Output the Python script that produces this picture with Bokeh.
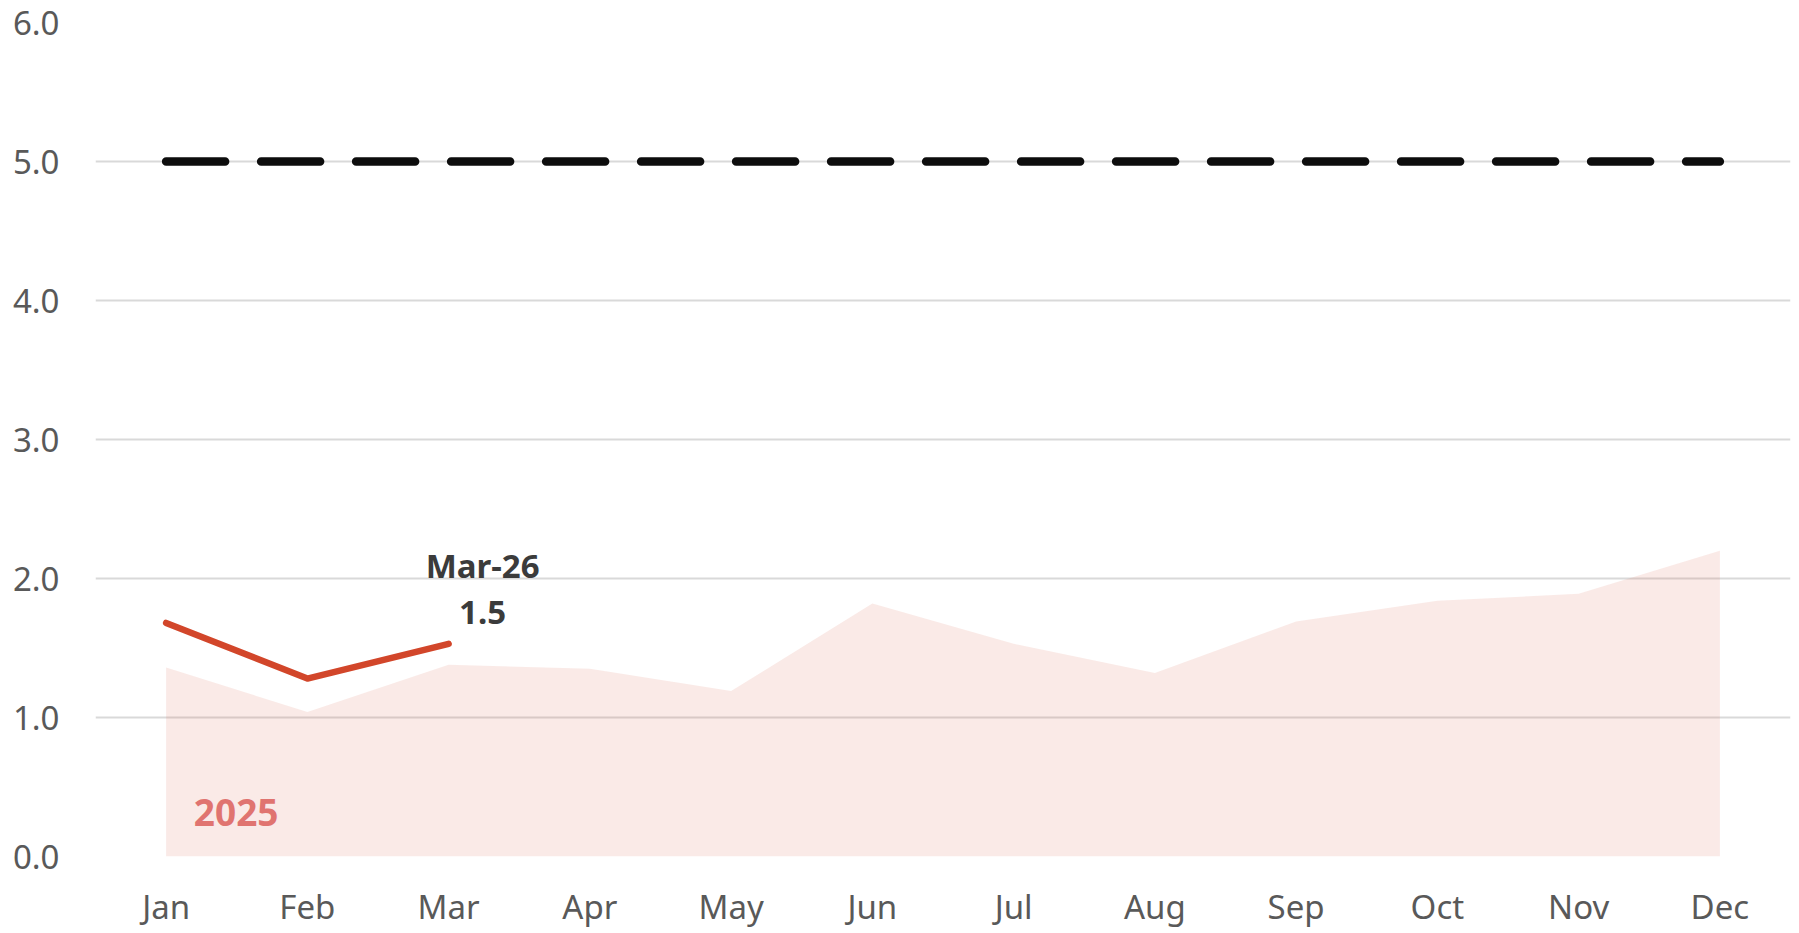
from bokeh.plotting import figure
from bokeh.models import Range1d, FixedTicker, PrintfTickFormatter
from bokeh.core.properties import value
from bokeh.embed import file_html
from bokeh.resources import INLINE

# ---- data ----
months = ["Jan", "Feb", "Mar", "Apr", "May", "Jun",
          "Jul", "Aug", "Sep", "Oct", "Nov", "Dec"]
values_2025 = [1.36, 1.04, 1.38, 1.35, 1.19, 1.82, 1.53, 1.32, 1.69, 1.84, 1.89, 2.20]
values_2026 = [1.68, 1.28, 1.53]
target_value = 5.0
y_ticks = [0, 1, 2, 3, 4, 5, 6]
series_label = "2025"
last_period_label = "Mar-26"
last_value_label = "1.5"

FONT = "Noto Sans"
x_all = list(range(len(months)))
x_cur = list(range(len(values_2026)))

p = figure(width=1791, height=931,
           x_range=Range1d(-0.5, len(months) - 0.5), y_range=Range1d(0, 6),
           output_backend="svg", toolbar_location=None,
           min_border_left=95, min_border_right=1,
           min_border_top=22, min_border_bottom=68)
p.outline_line_color = None
p.background_fill_color = "white"
p.border_fill_color = "white"

# area for 2025
p.varea(x=x_all, y1=[0] * len(x_all), y2=values_2025,
        fill_color="#e07060", fill_alpha=0.15)

# target dashed line
p.line(x=[x_all[0], x_all[-1]], y=[target_value, target_value],
       line_color="#0d0d0d", line_width=8.5, line_dash="59 36",
       line_cap="round")

# current year line
p.line(x=x_cur, y=values_2026, line_color="#d2462a", line_width=6.5,
       line_cap="round", line_join="round")

# annotations
p.text(x=[x_cur[-1]], y=[values_2026[-1]], text=[last_period_label],
       x_offset=34, y_offset=-78, text_align="center", text_baseline="middle",
       text_font=value(FONT), text_font_style="bold", text_font_size="33px",
       text_color="#3b3b3b")
p.text(x=[x_cur[-1]], y=[values_2026[-1]], text=[last_value_label],
       x_offset=34, y_offset=-31.5, text_align="center", text_baseline="middle",
       text_font=value(FONT), text_font_style="bold", text_font_size="33px",
       text_color="#3b3b3b")
p.text(x=[x_all[0]], y=[0], text=[series_label],
       x_offset=70, y_offset=-44.5, text_align="center", text_baseline="middle",
       text_font=value(FONT), text_font_style="bold", text_font_size="37px",
       text_color="#e07470")

# axes
p.xaxis.ticker = FixedTicker(ticks=x_all)
p.xaxis.major_label_overrides = {i: m for i, m in zip(x_all, months)}
p.yaxis.ticker = FixedTicker(ticks=y_ticks)
p.yaxis.formatter = PrintfTickFormatter(format="%.1f")
for ax in (p.xaxis, p.yaxis):
    ax.axis_line_color = None
    ax.major_tick_line_color = None
    ax.minor_tick_line_color = None
    ax.major_tick_out = 0
    ax.major_tick_in = 0
    ax.major_label_text_font = FONT
    ax.major_label_text_font_size = "33px"
    ax.major_label_text_color = "#595959"
p.xaxis.major_label_standoff = 27
p.yaxis.major_label_standoff = 36

p.xgrid.grid_line_color = None
p.ygrid.grid_line_color = "#d9d9d9"
p.ygrid.grid_line_width = 2

open("out.html", "w").write(file_html(p, INLINE))
